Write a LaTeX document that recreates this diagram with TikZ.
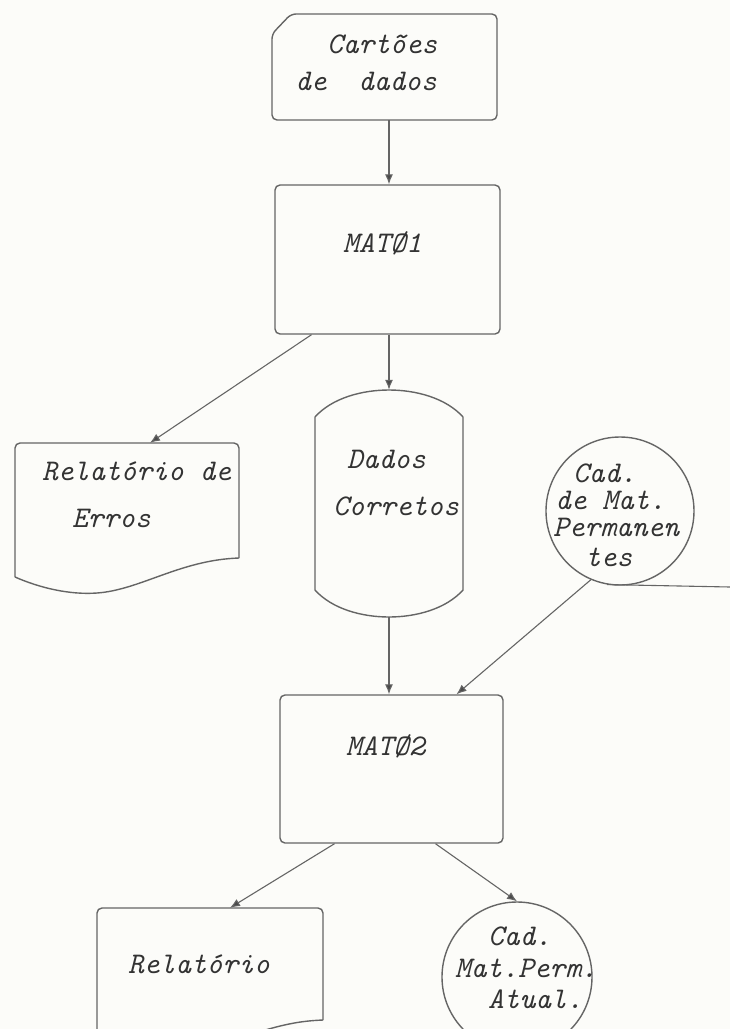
\documentclass[tikz,border=0pt]{standalone}
\usepackage{fontspec}
\usetikzlibrary{arrows.meta,calc}
\definecolor{ink}{HTML}{333333}
\definecolor{edgec}{HTML}{656565}
\definecolor{tipc}{HTML}{4A4A4A}
\definecolor{paper}{HTML}{FCFCF9}
\tikzset{
  shapeline/.style={draw=edgec, line width=1.4pt, line join=round},
  procbox/.style={shapeline, rectangle, rounded corners=5pt, inner sep=0pt},
  storecircle/.style={shapeline, circle, inner sep=0pt},
  holder/.style={draw=none, rectangle, inner sep=0pt},
  arr/.style={draw=edgec, line width=1.1pt, -{Latex[length=10pt,width=8pt,fill=tipc]}},
  plainline/.style={draw=edgec, line width=1.1pt},
  txt/.style={font=\ttfamily\itshape\fontsize{30}{30}\selectfont, text=ink, inner sep=0pt, anchor=base west}
}
\begin{document}
\begin{tikzpicture}[x=1pt,y=-1pt]
\useasboundingbox (0,0) rectangle (730,1029);
\fill[paper] (0,0) rectangle (730,1029);
\clip (0,0) rectangle (730,1029);

% ---- Cartoes de dados (punched card)
\node[holder, minimum width=225pt, minimum height=106pt] (card) at (384.5,67) {};
\draw[shapeline, rounded corners=5pt] (272,34) -- (291,14) -- (497,14) -- (497,120) -- (272,120) -- cycle;
\node[txt] (cardA) at (327,53) {Cartões};
\node[txt] (cardB) at (295,90) {de\ \ dados};

% ---- MAT01
\node[procbox, minimum width=225pt, minimum height=149pt] (mat1) at (387.5,259.5) {};
\node[txt] (mat1t) at (343,252) {MATØ1};

% ---- Relatorio de Erros (document)
\node[holder, minimum width=224pt, minimum height=150pt] (err) at (127,518) {};
\draw[shapeline, rounded corners=5pt] (15,577) -- (15,443) -- (239,443) -- (239,558);
\draw[shapeline] (239,558) .. controls (180,560) and (140,590) .. (97,593)
                 .. controls (70,595) and (40,588) .. (15,577);
\node[txt] (errA) at (42,480) {Relatório de};
\node[txt] (errB) at (72,527) {Erros};

% ---- Dados Corretos (stored data)
\node[holder, minimum width=148pt, minimum height=227pt] (dc) at (389,503.5) {};
\draw[shapeline] (315,417) -- (315,590)
   .. controls (332,609) and (362,617) .. (389,617)
   .. controls (416,617) and (446,609) .. (463,590)
   -- (463,417)
   .. controls (446,398) and (416,390) .. (389,390)
   .. controls (362,390) and (332,398) .. cycle;
\node[txt] (dcA) at (347,468) {Dados};
\node[txt] (dcB) at (333,515) {Corretos};

% ---- Cad. de Mat. Permanentes
\node[storecircle, minimum size=148pt] (cad) at (620,511) {};
\node[txt] (cadA) at (573,482) {Cad.};
\node[txt] (cadB) at (555,509) {de Mat.};
\node[txt] (cadC) at (553,536) {Permanen};
\node[txt] (cadD) at (585,566) {tes};
\coordinate (edge) at (730,587);

% ---- MAT02
\node[procbox, minimum width=223pt, minimum height=148pt] (mat2) at (391.5,769) {};
\node[txt] (mat2t) at (346,755) {MATØ2};

% ---- Relatorio (document)
\node[holder, minimum width=226pt, minimum height=140pt] (rel) at (210,978) {};
\draw[shapeline, rounded corners=5pt] (97,1070) -- (97,908) -- (323,908) -- (323,1020);
\draw[shapeline] (323,1020) .. controls (300,1021) and (285,1024) .. (255,1033)
                 .. controls (200,1050) and (140,1060) .. (97,1050);
\node[txt] (relA) at (128,973) {Relatório};

% ---- Cad. Mat.Perm. Atual.
\node[storecircle, minimum size=150pt] (cad2) at (517,977) {};
\node[txt] (cad2A) at (488,945) {Cad.};
\node[txt] (cad2B) at (455,977) {Mat.Perm.};
\node[txt] (cad2C) at (488,1008) {Atual.};

% ---- connectors
\draw[arr] (card.south -| dc.north) -- (mat1.north -| dc.north);
\draw[arr] ([xshift=-76pt]mat1.south) -- ([xshift=23pt]err.north);
\draw[arr] (mat1.south -| dc.north) -- (dc.north);
\draw[arr] (dc.south) -- (mat2.north -| dc.south);
\draw[arr] (cad.-113) -- ([xshift=65pt]mat2.north);
\draw[plainline] (cad.-100) -- (edge);
\draw[arr] ([xshift=-57pt]mat2.south) -- ([xshift=20pt]rel.north);
\draw[arr] ([xshift=44pt]mat2.south) -- (cad2.north);
\end{tikzpicture}
\end{document}
